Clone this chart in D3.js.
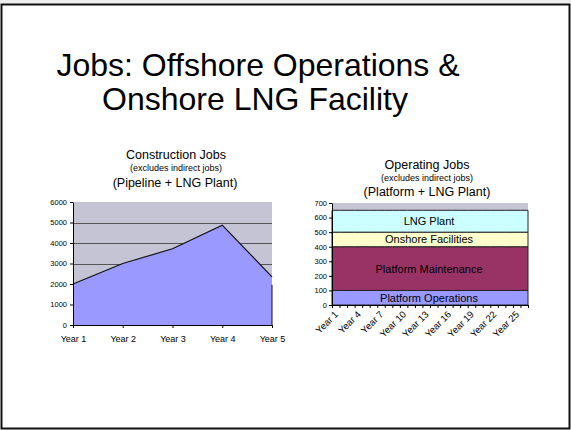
<!DOCTYPE html>
<html>
<head>
<meta charset="utf-8">
<script src="https://cdn.jsdelivr.net/npm/d3@7"></script>
<style>
  body { margin: 0; background: #fff; }
  text { font-family: "Liberation Sans", Arial, sans-serif; fill: #000; }
  .axis path, .axis line { stroke: #000; }
</style>
</head>
<body>
<svg id="slide" width="571" height="430"></svg>
<script>
// construction jobs (left chart)
const conYears = ["Year 1", "Year 2", "Year 3", "Year 4", "Year 5"];
const conJobs = [2000, 3000, 3720, 4870, 2350];
const conTicks = [0, 1000, 2000, 3000, 4000, 5000, 6000];

// operating jobs (right chart), years 1..26
const opYears = ["Year 1", "Year 2", "Year 3", "Year 4", "Year 5", "Year 6", "Year 7", "Year 8", "Year 9",
  "Year 10", "Year 11", "Year 12", "Year 13", "Year 14", "Year 15", "Year 16", "Year 17", "Year 18",
  "Year 19", "Year 20", "Year 21", "Year 22", "Year 23", "Year 24", "Year 25", "Year 26"];
const platformOps   = [100,100,100,100,100,100,100,100,100,100,100,100,100,100,100,100,100,100,100,100,100,100,100,100,100,100];
const platformMaint = [300,300,300,300,300,300,300,300,300,300,300,300,300,300,300,300,300,300,300,300,300,300,300,300,300,300];
const onshoreFac    = [100,100,100,100,100,100,100,100,100,100,100,100,100,100,100,100,100,100,100,100,100,100,100,100,100,100];
const lngPlant      = [150,150,150,150,150,150,150,150,150,150,150,150,150,150,150,150,150,150,150,150,150,150,150,150,150,150];
const opSeries = ["Platform Operations", "Platform Maintenance", "Onshore Facilities", "LNG Plant"];
const opColors = ["#9999ff", "#993366", "#ffffcc", "#ccffff"];
const opLabelYears = ["Year 1", "Year 4", "Year 7", "Year 10", "Year 13", "Year 16", "Year 19", "Year 22", "Year 25"];
const opTicks = [0, 100, 200, 300, 400, 500, 600, 700];

const svg = d3.select("#slide");

// slide frame
svg.append("rect").attr("x", 0).attr("y", 0).attr("width", 571).attr("height", 4).attr("fill", "#eeeeee");
svg.append("rect")
   .attr("x", 1.5).attr("y", 4.5).attr("width", 568).attr("height", 424)
   .attr("fill", "none").attr("stroke", "#111").attr("stroke-width", 2);

// slide title
svg.append("text").attr("x", 258).attr("y", 76).attr("text-anchor", "middle")
   .style("font-size", "32px").text("Jobs: Offshore Operations &");
svg.append("text").attr("x", 255).attr("y", 110).attr("text-anchor", "middle")
   .style("font-size", "32px").text("Onshore LNG Facility");

// ---------- left chart ----------
const lx = d3.scalePoint().domain(conYears).range([73, 272]).padding(0);
const ly = d3.scaleLinear().domain([0, 6000]).range([325, 202]);

const left = svg.append("g");
left.append("text").attr("x", 176).attr("y", 159).attr("text-anchor", "middle")
    .style("font-size", "12.5px").text("Construction Jobs");
left.append("text").attr("x", 176).attr("y", 171).attr("text-anchor", "middle")
    .style("font-size", "9px").text("(excludes indirect jobs)");
left.append("text").attr("x", 175).attr("y", 187).attr("text-anchor", "middle")
    .style("font-size", "12.5px").text("(Pipeline + LNG Plant)");

left.append("rect").attr("x", 73).attr("y", 202).attr("width", 199).attr("height", 123).attr("fill", "#c4c4d4");

// gridlines
left.append("g").selectAll("line")
    .data(conTicks.slice(1, -1))
   .enter().append("line")
    .attr("x1", 73).attr("x2", 272)
    .attr("y1", d => Math.round(ly(d)) + 0.5).attr("y2", d => Math.round(ly(d)) + 0.5)
    .attr("stroke", "#555");

const conData = conYears.map((y, i) => ({year: y, v: conJobs[i]}));
left.append("path").datum(conData)
    .attr("fill", "#9999ff")
    .attr("d", d3.area().x(d => lx(d.year)).y0(ly(0)).y1(d => ly(d.v)));
left.append("path").datum(conData)
    .attr("fill", "none").attr("stroke", "#111").attr("stroke-width", 1.2)
    .attr("d", d3.line().x(d => lx(d.year)).y(d => ly(d.v)));
left.append("line")
    .attr("x1", 272).attr("x2", 272).attr("y1", ly(conJobs[4]) + 8).attr("y2", ly(0))
    .attr("stroke", "#111");

left.append("g").attr("class", "axis")
    .attr("transform", "translate(73,0)")
    .call(d3.axisLeft(ly).tickValues(conTicks).tickSize(3).tickSizeOuter(0).tickFormat(d3.format("d")))
    .call(g => g.selectAll("text").style("font-size", "7.5px").attr("x", -6));
left.append("g").attr("class", "axis")
    .attr("transform", "translate(0,325)")
    .call(d3.axisBottom(lx).tickSize(3).tickSizeOuter(0))
    .call(g => g.selectAll("text").style("font-size", "9px").attr("y", 11));

// ---------- right chart ----------
const rx = d3.scaleBand().domain(opYears).range([332, 528]).padding(0);
const ry = d3.scaleLinear().domain([0, 700]).range([305, 203]);
const rEdge = d3.scaleLinear().domain([0, opYears.length]).range([332, 528]);

const right = svg.append("g");
right.append("text").attr("x", 427).attr("y", 169).attr("text-anchor", "middle")
     .style("font-size", "12.5px").text("Operating Jobs");
right.append("text").attr("x", 427).attr("y", 181).attr("text-anchor", "middle")
     .style("font-size", "9px").text("(excludes indirect jobs)");
right.append("text").attr("x", 427).attr("y", 196).attr("text-anchor", "middle")
     .style("font-size", "12.5px").text("(Platform + LNG Plant)");

right.append("rect").attr("x", 332).attr("y", 203).attr("width", 196).attr("height", 102).attr("fill", "#c4c4d4");

const opTable = opYears.map((y, i) => ({
  year: y,
  "Platform Operations": platformOps[i],
  "Platform Maintenance": platformMaint[i],
  "Onshore Facilities": onshoreFac[i],
  "LNG Plant": lngPlant[i]
}));
const stacked = d3.stack().keys(opSeries)(opTable);

// each year's value covers its own band
const stepArea = d3.area()
    .x(d => d.x).y0(d => ry(d.s[0])).y1(d => ry(d.s[1]));
stacked.forEach((s, k) => {
  const pts = [];
  s.forEach(d => {
    pts.push({x: rx(d.data.year), s: d});
    pts.push({x: rx(d.data.year) + rx.bandwidth(), s: d});
  });
  right.append("path").datum(pts)
       .attr("fill", opColors[k]).attr("stroke", "#222").attr("stroke-width", 1)
       .attr("d", stepArea);
  const mid = s[Math.floor(s.length / 2)];
  right.append("text")
       .attr("x", 429).attr("y", ry((mid[0] + mid[1]) / 2) + 4)
       .attr("text-anchor", "middle").style("font-size", "11px")
       .text(opSeries[k]);
});

right.append("g").attr("class", "axis")
     .attr("transform", "translate(332,0)")
     .call(d3.axisLeft(ry).tickValues(opTicks).tickSize(3).tickSizeOuter(0))
     .call(g => g.selectAll("text").style("font-size", "7.5px").attr("x", -5));
// tick marks between years
right.append("g").attr("class", "axis")
     .attr("transform", "translate(0,305)")
     .call(d3.axisBottom(rEdge).ticks(opYears.length).tickSize(3).tickSizeOuter(0).tickFormat(""));
// rotated year labels
right.append("g")
     .attr("transform", "translate(0,305)")
     .call(d3.axisBottom(rx).tickValues(opLabelYears).tickSize(0))
     .call(g => g.select(".domain").remove())
     .call(g => g.selectAll("text")
        .style("font-size", "9.5px")
        .attr("text-anchor", "end")
        .attr("y", 0).attr("dy", 0)
        .attr("transform", "translate(3,10) rotate(-45)"));
</script>
</body>
</html>
